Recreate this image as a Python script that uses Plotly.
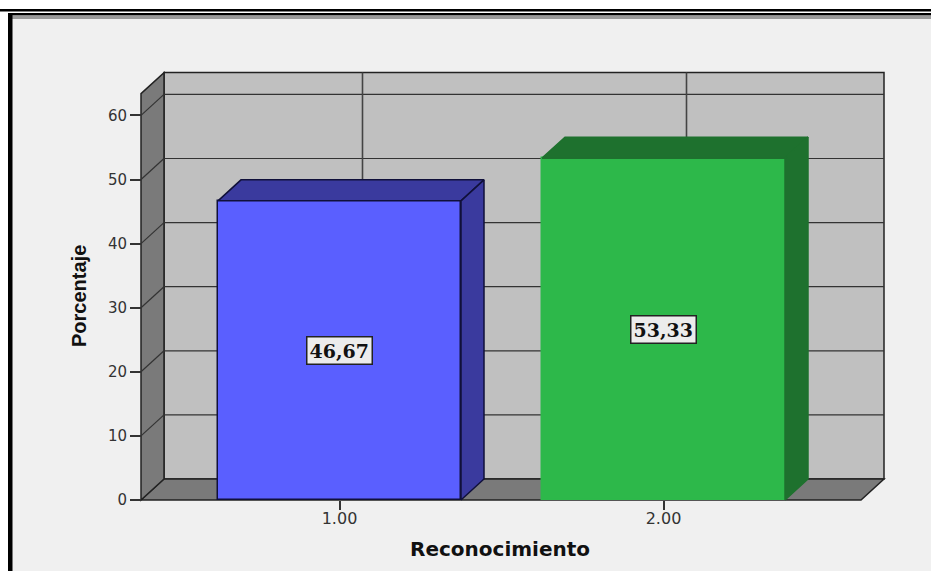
import plotly.graph_objects as go

categories = [1, 2]
tick_labels = ["1.00", "2.00"]
values = [46.67, 53.33]
value_labels = ["46,67", "53,33"]
y_ticks = [0, 10, 20, 30, 40, 50, 60]
front_colors = ["#5a5fff", "#2db84a"]
depth_colors = ["#3a3a9e", "#1e712e"]
edge_colors = ["#10103a", "#2db84a"]

W, H = 931, 571
PX_X = 324.0      # pixels per x unit
PX_Y = 6.41       # pixels per y unit
X1_PX = 339.5     # pixel of x=1
Y0_PX = 500.0     # pixel of y=0
DX = 23 / PX_X    # depth of the 3D box, in data units
DY = 21 / PX_Y
XMIN = 1 - (X1_PX - 141) / PX_X
XMAX = 1 + (861 - X1_PX) / PX_X
YMAX = 63.4
BAR = 0.75

# plot area slightly larger than the box, so edges are not clipped
L, R, T, B = 125, 900, 60, 510
x_range = [1 + (L - X1_PX) / PX_X, 1 + (R - X1_PX) / PX_X]
y_range = [(Y0_PX - B) / PX_Y, (Y0_PX - T) / PX_Y]

LINE = "#222222"
shapes = []


def paper(x0, y0, x1, y1, color):
    shapes.append(dict(type="rect", xref="paper", yref="paper", layer="below",
                       x0=x0 / W, x1=x1 / W, y0=1 - y0 / H, y1=1 - y1 / H,
                       fillcolor=color, line=dict(width=0)))


def poly(pts, fill):
    path = "M" + " L".join(f"{x},{y}" for x, y in pts) + " Z"
    shapes.append(dict(type="path", xref="x", yref="y", layer="below", path=path,
                       fillcolor=fill, line=dict(color=LINE, width=1.5)))


def seg(x0, y0, x1, y1, width=1.2, color="#333333"):
    shapes.append(dict(type="line", xref="x", yref="y", layer="below",
                       x0=x0, y0=y0, x1=x1, y1=y1, line=dict(color=color, width=width)))


# page frame
paper(8, 13, W, H, "#f0f0f0")
paper(0, 9, W, 11.5, "#000000")
paper(8, 13, W, 15.5, "#000000")
paper(12, 15.5, W, 19, "#9a9a9a")
paper(8, 13, 12.5, H, "#000000")

# 3D box walls
poly([(XMIN + DX, DY), (XMAX + DX, DY), (XMAX + DX, YMAX + DY), (XMIN + DX, YMAX + DY)], "#c0c0c0")
poly([(XMIN, 0), (XMAX, 0), (XMAX + DX, DY), (XMIN + DX, DY)], "#7a7a7a")
poly([(XMIN, 0), (XMIN + DX, DY), (XMIN + DX, YMAX + DY), (XMIN, YMAX)], "#7a7a7a")
for t in y_ticks[1:]:
    seg(XMIN, t, XMIN + DX, t + DY)
    seg(XMIN + DX, t + DY, XMAX + DX, t + DY)
for c in categories:
    seg(c + DX, DY, c + DX, YMAX + DY, 1.6, "#444444")

fig = go.Figure()
fig.add_trace(go.Bar(x=categories, y=values, width=BAR,
                     marker=dict(color=front_colors, line=dict(color=edge_colors, width=1.5)),
                     hoverinfo="skip", showlegend=False))

for c, v, col, e in zip(categories, values, depth_colors, edge_colors):
    a, b = c - BAR / 2, c + BAR / 2
    fig.add_trace(go.Scatter(x=[a, b, b + DX, a + DX, a], y=[v, v, v + DY, v + DY, v],
                             mode="lines", fill="toself", fillcolor=col,
                             line=dict(color=e if e != "#2db84a" else col, width=1.5),
                             hoverinfo="skip", showlegend=False))
    fig.add_trace(go.Scatter(x=[b, b + DX, b + DX, b, b], y=[0, DY, v + DY, v, 0],
                             mode="lines", fill="toself", fillcolor=col,
                             line=dict(color=e if e != "#2db84a" else col, width=1.5),
                             hoverinfo="skip", showlegend=False))

annotations = [dict(x=c, y=v / 2, xref="x", yref="y", text=f"<b>{s}</b>", showarrow=False,
                    font=dict(family="DejaVu Serif", size=19, color="#111111"),
                    bgcolor="#ececec", bordercolor="#222222", borderwidth=1.5, borderpad=2)
               for c, v, s in zip(categories, values, value_labels)]
annotations.append(dict(x=500 / W, y=1 - 549 / H, xref="paper", yref="paper", showarrow=False,
                        xanchor="center", yanchor="middle",
                        text="<b>Reconocimiento</b>",
                        font=dict(family="DejaVu Sans", size=20, color="#111111")))
annotations.append(dict(x=79 / W, y=1 - 296 / H, xref="paper", yref="paper", showarrow=False,
                        xanchor="center", yanchor="middle",
                        text="<b>Porcentaje</b>", textangle=-90,
                        font=dict(family="Liberation Sans Narrow, Liberation Sans", size=20, color="#111111")))

fig.update_layout(
    width=W, height=H, autosize=False,
    margin=dict(l=0, r=0, t=0, b=0),
    paper_bgcolor="white", plot_bgcolor="rgba(0,0,0,0)",
    bargap=0, shapes=shapes, annotations=annotations,
    xaxis=dict(domain=[L / W, R / W], range=x_range, tickmode="array", tickvals=categories,
               ticktext=tick_labels, anchor="free", position=1 - Y0_PX / H,
               showgrid=False, zeroline=False, showline=False,
               ticks="outside", ticklen=9, tickwidth=1.5, tickcolor="#333333", ticklabelstandoff=-5,
               tickfont=dict(family="DejaVu Sans", size=16, color="#333333")),
    yaxis=dict(domain=[1 - B / H, 1 - T / H], range=y_range, tickmode="array", tickvals=y_ticks,
               anchor="free", position=141 / W,
               showgrid=False, zeroline=False, showline=False,
               ticks="outside", ticklen=11, tickwidth=1.5, tickcolor="#333333",
               tickfont=dict(family="DejaVu Sans", size=15, color="#333333")),
)
fig.write_html("out.html", config={"displayModeBar": False},
               post_script="document.body.style.margin='0';")
